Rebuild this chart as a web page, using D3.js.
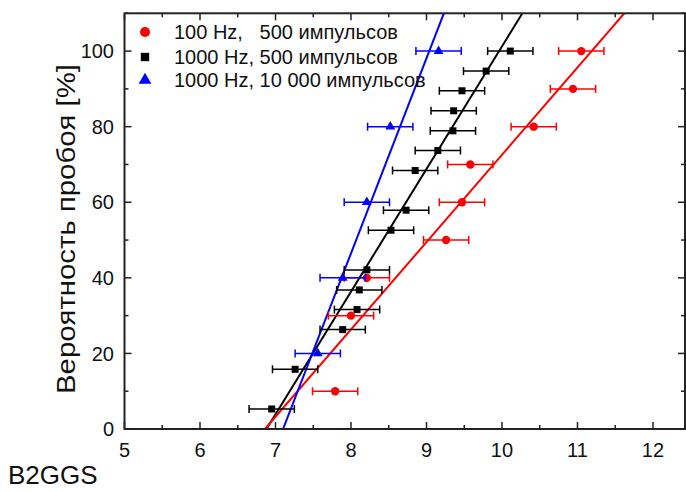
<!DOCTYPE html>
<html><head><meta charset="utf-8">
<script src="https://cdn.jsdelivr.net/npm/d3@7"></script>
<style>body{margin:0;background:#fff}svg{display:block}</style>
</head><body>
<svg id="c" width="686" height="492"></svg>
<script>
// ---- data ----
const xTicks = [5, 6, 7, 8, 9, 10, 11, 12];
const yTicks = [0, 20, 40, 60, 80, 100];
const legendLabels = ["100 Hz,   500 импульсов", "1000 Hz, 500 импульсов", "1000 Hz, 10 000 импульсов"];

// 100 Hz, 500 pulses (red circles)
const redX = [7.79, 8.00, 8.21, 9.26, 9.47, 9.58, 10.42, 10.94, 11.05];
const redY = [10, 30, 40, 50, 60, 70, 80, 90, 100];
const redErr = [0.3, 0.3, 0.3, 0.3, 0.3, 0.3, 0.3, 0.3, 0.3];
const redFit = [[6.86, 0], [11.62, 110]];

// 1000 Hz, 500 pulses (black squares)
const blackX = [6.95, 7.26, 7.89, 8.08, 8.11, 8.21, 8.53, 8.73, 8.85, 9.15, 9.35, 9.36, 9.47, 9.79, 10.11];
const blackY = [5.3, 15.8, 26.3, 31.6, 36.8, 42.1, 52.6, 57.9, 68.4, 73.7, 78.9, 84.2, 89.5, 94.7, 100];
const blackErr = [0.3, 0.3, 0.3, 0.3, 0.3, 0.3, 0.3, 0.3, 0.3, 0.3, 0.3, 0.3, 0.3, 0.3, 0.3];
const blackFit = [[6.88, 0], [10.27, 110]];

// 1000 Hz, 10 000 pulses (blue triangles)
const blueX = [7.56, 7.89, 8.21, 8.52, 9.16];
const blueY = [20, 40, 60, 80, 100];
const blueErr = [0.3, 0.3, 0.3, 0.3, 0.3];
const blueFit = [[7.10, 0], [9.23, 110]];

// ---- drawing ----
const svg = d3.select("#c");
const L = 124.5, R = 685, T = 13.3, B = 429;
const x = d3.scaleLinear().domain([5, 12.424]).range([L, R]);
const y = d3.scaleLinear().domain([0, 110]).range([B, T]);
const FONT = "'Liberation Sans', Arial, sans-serif";

const plot = svg.append("g");
svg.append("defs").append("clipPath").attr("id", "clip")
  .append("rect").attr("x", L).attr("y", T).attr("width", R - L).attr("height", B - T);

const series = [
  {xs: blackX, ys: blackY, err: blackErr, fit: blackFit, color: "#000000", shape: d3.symbolSquare, size: 49},
  {xs: redX, ys: redY, err: redErr, fit: redFit, color: "#ff0000", shape: d3.symbolCircle, size: 55},
  {xs: blueX, ys: blueY, err: blueErr, fit: blueFit, color: "#0000ff", shape: d3.symbolTriangle, size: 42}
];

const line = d3.line().x(d => x(d[0])).y(d => y(d[1]));
series.forEach(s => {
  plot.append("path").attr("d", line(s.fit)).attr("fill", "none")
    .attr("stroke", s.color).attr("stroke-width", 2).attr("clip-path", "url(#clip)");
});
series.forEach(s => {
  const g = plot.append("g");
  s.xs.forEach((xv, i) => {
    const yv = s.ys[i], e = s.err[i];
    const yy = y(yv);
    g.append("line").attr("x1", x(xv - e)).attr("x2", x(xv + e)).attr("y1", yy).attr("y2", yy)
      .attr("stroke", s.color).attr("stroke-width", 1.5);
    [xv - e, xv + e].forEach(ex => {
      g.append("line").attr("x1", x(ex)).attr("x2", x(ex)).attr("y1", yy - 4).attr("y2", yy + 4)
        .attr("stroke", s.color).attr("stroke-width", 1.5);
    });
    g.append("path").attr("d", d3.symbol().type(s.shape).size(s.size)())
      .attr("transform", `translate(${x(xv)},${yy})`).attr("fill", s.color);
  });
});

// axes (ticks inward)
const axColor = "#222";
const xMinor = d3.range(5, 12.5, 0.5).filter(v => !xTicks.includes(v));
const yMinor = d3.range(0, 111, 10).filter(v => !yTicks.includes(v));
const ax = svg.append("g").attr("stroke", axColor);
function tickLines(vals, len) {
  vals.forEach(v => {
    ax.append("line").attr("x1", x(v)).attr("x2", x(v)).attr("y1", B).attr("y2", B - len).attr("stroke-width", 1.5);
    ax.append("line").attr("x1", x(v)).attr("x2", x(v)).attr("y1", T).attr("y2", T + len).attr("stroke-width", 1.5);
  });
}
function ytickLines(vals, len) {
  vals.forEach(v => {
    ax.append("line").attr("y1", y(v)).attr("y2", y(v)).attr("x1", L).attr("x2", L + len).attr("stroke-width", 1.5);
    ax.append("line").attr("y1", y(v)).attr("y2", y(v)).attr("x1", R).attr("x2", R - len).attr("stroke-width", 1.5);
  });
}
tickLines(xTicks, 7); tickLines(xMinor, 4);
ytickLines(yTicks, 7); ytickLines(yMinor, 4);
ax.append("rect").attr("x", L).attr("y", T).attr("width", R - L).attr("height", B - T)
  .attr("fill", "none").attr("stroke-width", 2);

// tick labels
svg.append("g").selectAll("text").data(xTicks).join("text")
  .attr("x", d => x(d)).attr("y", 457).attr("text-anchor", "middle")
  .attr("font-family", FONT).attr("font-size", 20).attr("fill", "#111").text(d => d);
svg.append("g").selectAll("text").data(yTicks).join("text")
  .attr("x", 114).attr("y", d => y(d)).attr("dy", "0.36em").attr("text-anchor", "end")
  .attr("font-family", FONT).attr("font-size", 20).attr("fill", "#111").text(d => d);

// y axis title
svg.append("text").attr("transform", "translate(75,229) rotate(-90)").attr("text-anchor", "middle")
  .attr("font-family", FONT).attr("font-size", 26).attr("fill", "#111")
  .attr("textLength", 330).attr("lengthAdjust", "spacingAndGlyphs")
  .text("Вероятность пробоя [%]");

// bottom-left caption
svg.append("text").attr("x", 8).attr("y", 484).attr("font-family", FONT).attr("font-size", 26)
  .attr("fill", "#111").text("B2GGS");

// legend
const leg = svg.append("g");
const legRows = [32, 57, 80];
const legOrder = [series[1], series[0], series[2]];
legOrder.forEach((s, i) => {
  const sz = s.shape === d3.symbolSquare ? 70 : s.shape === d3.symbolCircle ? 80 : 70;
  leg.append("path").attr("d", d3.symbol().type(s.shape).size(sz)())
    .attr("transform", `translate(145,${legRows[i]})`).attr("fill", s.color);
  leg.append("text").attr("x", 174).attr("y", legRows[i]).attr("dy", "0.36em")
    .attr("font-family", FONT).attr("font-size", 20).attr("fill", "#111")
    .style("white-space", "pre").text(legendLabels[i]);
});
</script>
</body></html>
